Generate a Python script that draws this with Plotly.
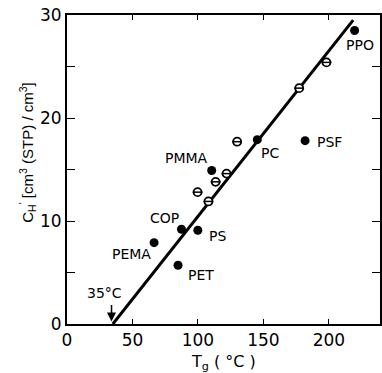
import plotly.graph_objects as go

# Filled (named) polymers
named_polymers = ["PEMA", "PET", "COP", "PS", "PMMA", "PC", "PSF", "PPO"]
named_tg = [66.5, 84.8, 87.4, 99.9, 110.5, 145.3, 181.8, 219.6]
named_ch = [7.9, 5.7, 9.2, 9.1, 14.9, 17.9, 17.8, 28.5]

# Label positions (data units) for named polymers
label_x = [49.5, 102.3, 74.6, 114.8, 91.6, 154.8, 200.5, 223.6]
label_y = [6.8, 4.8, 10.3, 8.5, 16.1, 16.6, 17.7, 27.1]

# Open (unnamed) points
open_tg = [99.7, 108.0, 113.5, 121.8, 129.9, 177.3, 198.1]
open_ch = [12.8, 11.9, 13.8, 14.6, 17.7, 22.9, 25.4]

# Correlation line
line_tg = [35, 218.5]
line_ch = [0, 29.5]

x_ticks = [0, 50, 100, 150, 200]
y_ticks = [0, 10, 20, 30]

FONT = "DejaVu Sans"

fig = go.Figure()
fig.add_trace(go.Scatter(x=line_tg, y=line_ch, mode="lines",
                         line=dict(color="black", width=3), hoverinfo="skip"))
fig.add_trace(go.Scatter(x=open_tg, y=open_ch, mode="markers",
                         marker=dict(symbol="circle", size=8, color="white",
                                     line=dict(color="black", width=1.8))))
fig.add_trace(go.Scatter(x=open_tg, y=open_ch, mode="markers",
                         marker=dict(symbol="line-ew", size=7,
                                     line=dict(color="black", width=1.5))))
fig.add_trace(go.Scatter(x=named_tg, y=named_ch, mode="markers",
                         marker=dict(symbol="circle", size=9, color="black")))

annotations = []
for name, lx, ly in zip(named_polymers, label_x, label_y):
    annotations.append(dict(x=lx, y=ly, text=name, showarrow=False,
                            xanchor="center", yanchor="middle",
                            font=dict(family=FONT, size=14, color="black")))
annotations.append(dict(x=28.3, y=3.0, text="35°C", showarrow=False,
                        xanchor="center", yanchor="middle",
                        font=dict(family=FONT, size=14, color="black")))
annotations.append(dict(x=34, y=0.25, ax=34, ay=2.0, axref="x", ayref="y",
                        text="", showarrow=True, arrowhead=2, arrowsize=1.2,
                        arrowwidth=1.5, arrowcolor="black"))
annotations.append(dict(xref="paper", yref="paper", x=-0.127, y=0.555,
                        xanchor="center", yanchor="middle",
                        text="C<sub>H</sub><sup>'</sup> [cm<sup>3</sup> (STP) / cm<sup>3</sup>]",
                        textangle=-90, showarrow=False,
                        font=dict(family="Liberation Sans", size=15, color="black")))
annotations.append(dict(xref="paper", yref="paper", x=0.5, y=-0.125,
                        xanchor="center", yanchor="middle",
                        text="T<sub>g</sub> ( °C )", showarrow=False,
                        font=dict(family=FONT, size=16, color="black")))

fig.update_layout(
    width=382, height=373,
    margin=dict(l=67, r=0, t=15, b=49),
    paper_bgcolor="white", plot_bgcolor="white",
    showlegend=False,
    annotations=annotations,
    xaxis=dict(range=[0, 239], tickvals=x_ticks, ticktext=[str(v) for v in x_ticks],
               ticks="inside", ticklen=5, tickwidth=1.2, tickcolor="black",
               showline=True, linecolor="black", linewidth=2, mirror="ticks",
               showgrid=False, zeroline=False,
               tickfont=dict(family=FONT, size=17, color="black")),
    yaxis=dict(range=[0, 30], tickvals=y_ticks, ticktext=[str(v) for v in y_ticks],
               ticks="inside", ticklen=8, tickwidth=1.2, tickcolor="black",
               minor=dict(dtick=5, ticks="inside", ticklen=8, tickwidth=1.2,
                          tickcolor="black", showgrid=False),
               showline=True, linecolor="black", linewidth=2, mirror="ticks",
               showgrid=False, zeroline=False,
               tickfont=dict(family=FONT, size=17, color="black")),
)

fig.write_html("out.html")
